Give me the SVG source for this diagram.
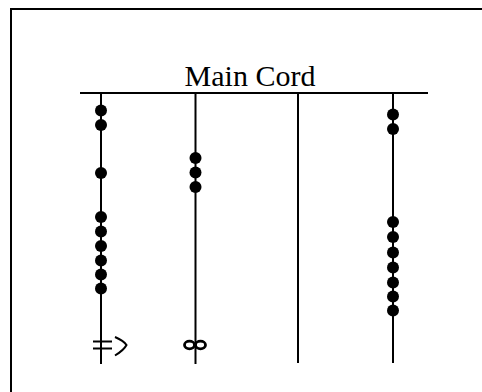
<svg xmlns="http://www.w3.org/2000/svg" width="482" height="392" viewBox="0 0 482 392">
<style>
.ln{stroke:#000;stroke-width:2;fill:none}
.bd{fill:#000}
.lbl{font-size:30px;fill:#000}
</style>
<defs>
<circle id="bead" r="6" class="bd"/>
</defs>
<rect x="0" y="0" width="482" height="392" fill="#fff"/>
<g id="frame">
<path class="ln" d="M11,392 V9 H482"/>
</g>
<g id="main-cord">
<line class="ln" x1="80" y1="93" x2="428" y2="93"/>
<text class="lbl" x="250" y="86" text-anchor="middle" font-family="'Liberation Serif', 'DejaVu Serif', serif">Main Cord</text>
</g>
<g id="connectors">
<line class="ln" x1="101" y1="93" x2="101" y2="364"/>
<line class="ln" x1="195.5" y1="93" x2="195.5" y2="364"/>
<line class="ln" x1="298" y1="93" x2="298" y2="363"/>
<line class="ln" x1="393" y1="93" x2="393" y2="363"/>
</g>
<g id="pendant1">
<use href="#bead" x="101" y="110.5"/>
<use href="#bead" x="101" y="125"/>
<use href="#bead" x="101" y="173"/>
<use href="#bead" x="101" y="217"/>
<use href="#bead" x="101" y="231.5"/>
<use href="#bead" x="101" y="246"/>
<use href="#bead" x="101" y="260.5"/>
<use href="#bead" x="101" y="274.5"/>
<use href="#bead" x="101" y="288.5"/>
<line class="ln" x1="93" y1="341.5" x2="112" y2="341.5"/>
<line class="ln" x1="93" y1="348.5" x2="112" y2="348.5"/>
<path class="ln" d="M115,337 Q124,341 126.5,345 Q124,350 115,355.5"/>
</g>
<g id="pendant2">
<use href="#bead" x="195.5" y="158"/>
<use href="#bead" x="195.5" y="172.5"/>
<use href="#bead" x="195.5" y="187"/>
<ellipse cx="189.5" cy="345" rx="5" ry="3.8" fill="none" stroke="#000" stroke-width="2.8"/>
<ellipse cx="200.5" cy="345" rx="5" ry="3.8" fill="none" stroke="#000" stroke-width="2.8"/>
</g>
<g id="pendant3"/>
<g id="pendant4">
<use href="#bead" x="393" y="114.5"/>
<use href="#bead" x="393" y="129"/>
<use href="#bead" x="393" y="222"/>
<use href="#bead" x="393" y="237"/>
<use href="#bead" x="393" y="252.5"/>
<use href="#bead" x="393" y="267.5"/>
<use href="#bead" x="393" y="282.5"/>
<use href="#bead" x="393" y="296.5"/>
<use href="#bead" x="393" y="310.5"/>
</g>
</svg>
